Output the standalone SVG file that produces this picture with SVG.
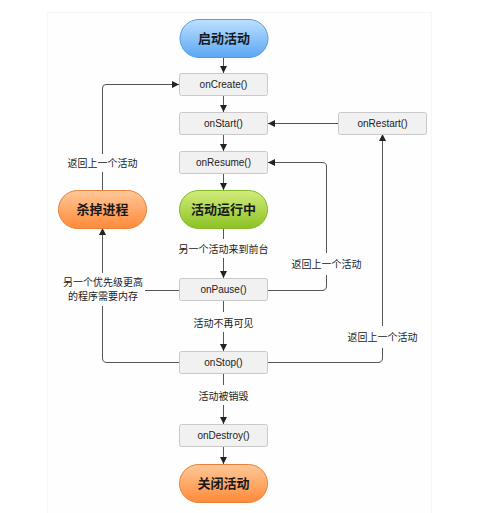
<svg xmlns="http://www.w3.org/2000/svg" width="495" height="513" viewBox="0 0 495 513">
<defs>
<linearGradient id="gBlue" x1="0" y1="0" x2="0" y2="1"><stop offset="0" stop-color="#bfe0ff"/><stop offset="1" stop-color="#5aa6f4"/></linearGradient>
<linearGradient id="gGreen" x1="0" y1="0" x2="0" y2="1"><stop offset="0" stop-color="#d2ec7c"/><stop offset="1" stop-color="#8cc224"/></linearGradient>
<linearGradient id="gOrange" x1="0" y1="0" x2="0" y2="1"><stop offset="0" stop-color="#ffc898"/><stop offset="1" stop-color="#ff8a3a"/></linearGradient>
<marker id="arr" viewBox="0 0 10 10" refX="10" refY="5" markerWidth="7" markerHeight="7" markerUnits="userSpaceOnUse" orient="auto"><path d="M0,0 L10,5 L0,10 z" fill="#222"/></marker>
</defs>
<style>
.box{fill:#f1f1f1;stroke:#c9c9c9;stroke-width:1}
.bt{font-family:"Liberation Sans","Noto Sans CJK SC",sans-serif;font-size:10px;fill:#222;text-anchor:middle}
.pt{font-family:"Noto Sans CJK SC",sans-serif;font-size:13px;font-weight:bold;fill:#1a1a1a;text-anchor:middle}
.lt{font-family:"Noto Sans CJK SC",sans-serif;font-size:10px;fill:#222;text-anchor:middle}
.ln{fill:none;stroke:#555;stroke-width:1}
.la{fill:none;stroke:#555;stroke-width:1;marker-end:url(#arr)}
</style>
<rect x="0" y="0" width="495" height="513" fill="#ffffff"/>
<rect x="47.5" y="12.5" width="384" height="510" fill="#fefefe" stroke="#f6f6f6"/>
<g id="connectors">
<line class="la" x1="223.5" y1="57" x2="223.5" y2="73"/>
<line class="la" x1="223.5" y1="95" x2="223.5" y2="112"/>
<line class="la" x1="223.5" y1="134" x2="223.5" y2="151"/>
<line class="la" x1="223.5" y1="173" x2="223.5" y2="190"/>
<line class="ln" x1="223.5" y1="228" x2="223.5" y2="239"/>
<line class="la" x1="223.5" y1="258" x2="223.5" y2="278"/>
<line class="ln" x1="223.5" y1="301" x2="223.5" y2="312"/>
<line class="la" x1="223.5" y1="332" x2="223.5" y2="351"/>
<line class="ln" x1="223.5" y1="373" x2="223.5" y2="385"/>
<line class="la" x1="223.5" y1="405" x2="223.5" y2="424"/>
<line class="la" x1="223.5" y1="446" x2="223.5" y2="464"/>
<path class="ln" d="M102.5,190 V172"/>
<path class="la" d="M102.5,154 V88 Q102.5,84.5 106,84.5 H179"/>
<path class="la" d="M338,123.5 H268"/>
<path class="ln" d="M268,290.5 H322 Q326.5,290.5 326.5,286 V275"/>
<path class="la" d="M326.5,253 V166 Q326.5,162.5 322,162.5 H268"/>
<path class="ln" d="M268,362.5 H378 Q382.5,362.5 382.5,358 V348"/>
<path class="la" d="M382.5,326 V134"/>
<path class="ln" d="M179,362.5 H107 Q102.5,362.5 102.5,358 V306"/>
<path class="la" d="M102.5,273 V228"/>
<path class="ln" d="M179,290.5 H145"/>
</g>
<g id="label-back1"><text class="lt" x="102.5" y="166.5">返回上一个活动</text></g>
<g id="label-foreground"><text class="lt" x="223.5" y="252.5">另一个活动来到前台</text></g>
<g id="label-invisible"><text class="lt" x="223.5" y="326.5">活动不再可见</text></g>
<g id="label-destroyed"><text class="lt" x="223.5" y="399.5">活动被销毁</text></g>
<g id="label-back2"><text class="lt" x="326.5" y="267.5">返回上一个活动</text></g>
<g id="label-back3"><text class="lt" x="382.5" y="341">返回上一个活动</text></g>
<g id="label-memory"><text class="lt" x="103" y="285.5">另一个优先级更高</text><text class="lt" x="103" y="299.5">的程序需要内存</text></g>
<g id="start"><rect x="180" y="19.5" width="88" height="38" rx="19" fill="url(#gBlue)" stroke="#5a9ee0"/><text class="pt" x="224" y="43">启动活动</text></g>
<g id="onCreate"><rect class="box" x="179.5" y="73.5" width="88" height="22" rx="2"/><text class="bt" x="223.5" y="88">onCreate()</text></g>
<g id="onStart"><rect class="box" x="179.5" y="112.5" width="88" height="22" rx="2"/><text class="bt" x="223.5" y="127">onStart()</text></g>
<g id="onRestart"><rect class="box" x="338.5" y="112.5" width="88" height="22" rx="2"/><text class="bt" x="382.5" y="127">onRestart()</text></g>
<g id="onResume"><rect class="box" x="179.5" y="151.5" width="88" height="22" rx="2"/><text class="bt" x="223.5" y="166">onResume()</text></g>
<g id="running"><rect x="179.5" y="190.5" width="88" height="38" rx="19" fill="url(#gGreen)" stroke="#84b82a"/><text class="pt" x="223.5" y="214">活动运行中</text></g>
<g id="kill"><rect x="58.5" y="190.5" width="88" height="38" rx="19" fill="url(#gOrange)" stroke="#e8823a"/><text class="pt" x="102.5" y="214">杀掉进程</text></g>
<g id="onPause"><rect class="box" x="179.5" y="278.5" width="88" height="22" rx="2"/><text class="bt" x="223.5" y="293">onPause()</text></g>
<g id="onStop"><rect class="box" x="179.5" y="351.5" width="88" height="22" rx="2"/><text class="bt" x="223.5" y="366">onStop()</text></g>
<g id="onDestroy"><rect class="box" x="179.5" y="424.5" width="88" height="22" rx="2"/><text class="bt" x="223.5" y="439">onDestroy()</text></g>
<g id="end"><rect x="179.5" y="464.5" width="88" height="38" rx="19" fill="url(#gOrange)" stroke="#e8823a"/><text class="pt" x="223.5" y="488">关闭活动</text></g>
</svg>
